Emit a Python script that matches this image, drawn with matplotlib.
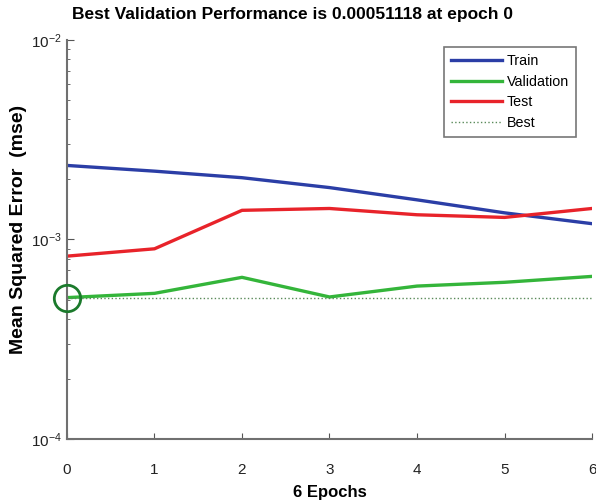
import numpy as np
from matplotlib import pyplot as plt
from matplotlib.ticker import LogLocator, NullFormatter

plt.rcParams['font.family'] = ['Liberation Sans', 'DejaVu Sans']
plt.rcParams['mathtext.fontset'] = 'custom'
plt.rcParams['mathtext.rm'] = 'Liberation Sans'

# values
epochs = [0, 1, 2, 3, 4, 5, 6]
train = [2.35e-3, 2.20e-3, 2.04e-3, 1.82e-3, 1.58e-3, 1.36e-3, 1.20e-3]
validation = [5.1118e-4, 5.37e-4, 6.46e-4, 5.15e-4, 5.84e-4, 6.10e-4, 6.53e-4]
test = [8.25e-4, 8.98e-4, 1.40e-3, 1.43e-3, 1.33e-3, 1.29e-3, 1.43e-3]
best_epoch = 0
best_perf = 5.1118e-4

fig = plt.figure(figsize=(5.96, 5.04), dpi=100)
ax = fig.add_axes([0.1124, 0.129, 0.8809, 0.7917])

ax.semilogy(epochs, train, color='#2b3ea6', lw=2.4, label='Train')
ax.semilogy(epochs, validation, color='#34b53a', lw=2.4, label='Validation')
ax.semilogy(epochs, test, color='#e8232a', lw=2.4, label='Test')
ax.semilogy([epochs[0], epochs[-1]], [best_perf, best_perf], ':', color='#5a8a5a',
             lw=1.0, label='Best')
ax.semilogy([best_epoch], [best_perf], 'o', ms=19, mfc='none', mec='#1b7a2c',
             mew=2.0, clip_on=False, zorder=5)

ax.set_xlim(0, 6)
ax.set_ylim(1e-4, 1e-2)
ax.set_xticks(epochs)
ax.yaxis.set_major_locator(LogLocator(base=10, numticks=10))
ax.yaxis.set_minor_locator(LogLocator(base=10, subs=np.arange(2, 10), numticks=20))
ax.yaxis.set_minor_formatter(NullFormatter())

for s in ['top', 'right']:
    ax.spines[s].set_visible(False)
for s in ['left', 'bottom']:
    ax.spines[s].set_color('#707070')
    ax.spines[s].set_linewidth(1.5)

ax.tick_params(axis='both', which='both', direction='in', colors='#555555',
               labelcolor='#222222', labelsize=11)
ax.tick_params(axis='x', which='major', length=4, pad=17)
ax.tick_params(axis='y', which='major', length=5)
ax.tick_params(axis='y', which='minor', length=2.5)

ax.set_title('Best Validation Performance is 0.00051118 at epoch 0',
             fontsize=12.5, fontweight='bold', x=0.43, pad=15)
ax.set_xlabel('6 Epochs', fontsize=12, fontweight='bold', labelpad=6)
ax.set_ylabel('Mean Squared Error  (mse)', fontsize=14, fontweight='bold')
ax.yaxis.set_label_coords(-0.076, 0.524)

leg = ax.legend(loc='upper right', bbox_to_anchor=(0.9695, 0.982), fontsize=10.3,
                handlelength=3.6, handletextpad=0.3, labelspacing=0.45,
                fancybox=False, framealpha=1, borderpad=0.5, borderaxespad=0)
leg.get_frame().set_edgecolor('#777777')
leg.get_frame().set_linewidth(1.2)

fig.savefig('out.png', dpi=100)
